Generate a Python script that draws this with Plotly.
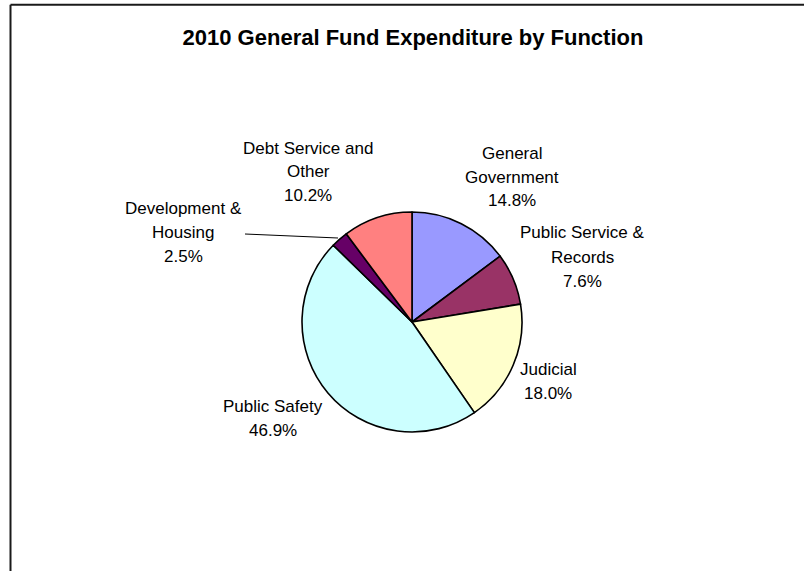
import plotly.graph_objects as go

# 2010 General Fund expenditure shares by function (percent), clockwise from 12 o'clock
functions = [
    "General Government",
    "Public Service & Records",
    "Judicial",
    "Public Safety",
    "Development & Housing",
    "Debt Service and Other",
]
shares = [14.8, 7.6, 18.0, 46.9, 2.5, 10.2]
label_lines = [
    ["General", "Government"],
    ["Public Service &", "Records"],
    ["Judicial"],
    ["Public Safety"],
    ["Development &", "Housing"],
    ["Debt Service and", "Other"],
]
colors = ["#9999FF", "#993366", "#FFFFCC", "#CCFFFF", "#660066", "#FF8080"]

W, H = 804, 571


def px_x(x):
    return x / W


def px_y(y):
    return 1 - y / H


# pie geometry in pixels
cx, cy, r = 412, 322, 110

fig = go.Figure(
    go.Pie(
        labels=functions,
        values=shares,
        sort=False,
        direction="clockwise",
        rotation=0,
        marker=dict(colors=colors, line=dict(color="#000000", width=1.6)),
        textinfo="none",
        hoverinfo="label+percent",
        showlegend=False,
        domain=dict(x=[px_x(cx - r), px_x(cx + r)], y=[px_y(cy + r), px_y(cy - r)]),
    )
)

# label block centres in pixels
label_pos = [
    (512, 177),
    (582, 257),
    (548, 381),
    (273, 418),
    (183, 232),
    (308, 172),
]
line_gap = 24
label_font = dict(family="Liberation Sans, Arial, sans-serif", size=17, color="#000000")

annotations = []
for lines, v, (x, y) in zip(label_lines, shares, label_pos):
    rows = lines + [f"{v:.1f}%"]
    n = len(rows)
    for i, row in enumerate(rows):
        annotations.append(
            dict(
                x=px_x(x),
                y=px_y(y + (i - (n - 1) / 2) * line_gap),
                xref="paper",
                yref="paper",
                xanchor="center",
                yanchor="middle",
                showarrow=False,
                text=row,
                font=label_font,
            )
        )

shapes = [
    # chart frame (top and left edges)
    dict(type="line", xref="paper", yref="paper",
         x0=px_x(10.5), y0=px_y(4.8), x1=1.0, y1=px_y(4.8),
         line=dict(color="#1a1a1a", width=2)),
    dict(type="line", xref="paper", yref="paper",
         x0=px_x(10.5), y0=px_y(4.8), x1=px_x(10.5), y1=0.0,
         line=dict(color="#1a1a1a", width=2)),
    # leader line for the small Development & Housing slice
    dict(type="line", xref="paper", yref="paper",
         x0=px_x(245), y0=px_y(234), x1=px_x(338), y1=px_y(238),
         line=dict(color="#000000", width=1)),
]

fig.update_layout(
    width=W,
    height=H,
    margin=dict(l=0, r=0, t=0, b=0),
    paper_bgcolor="#ffffff",
    plot_bgcolor="#ffffff",
    title=dict(
        text="2010 General Fund Expenditure by Function",
        x=px_x(413),
        xanchor="center",
        y=px_y(37.5),
        yanchor="middle",
        font=dict(family="Liberation Sans, Arial, sans-serif", size=22, color="#000000", weight="bold"),
    ),
    annotations=annotations,
    shapes=shapes,
)

fig.write_html("out.html")
